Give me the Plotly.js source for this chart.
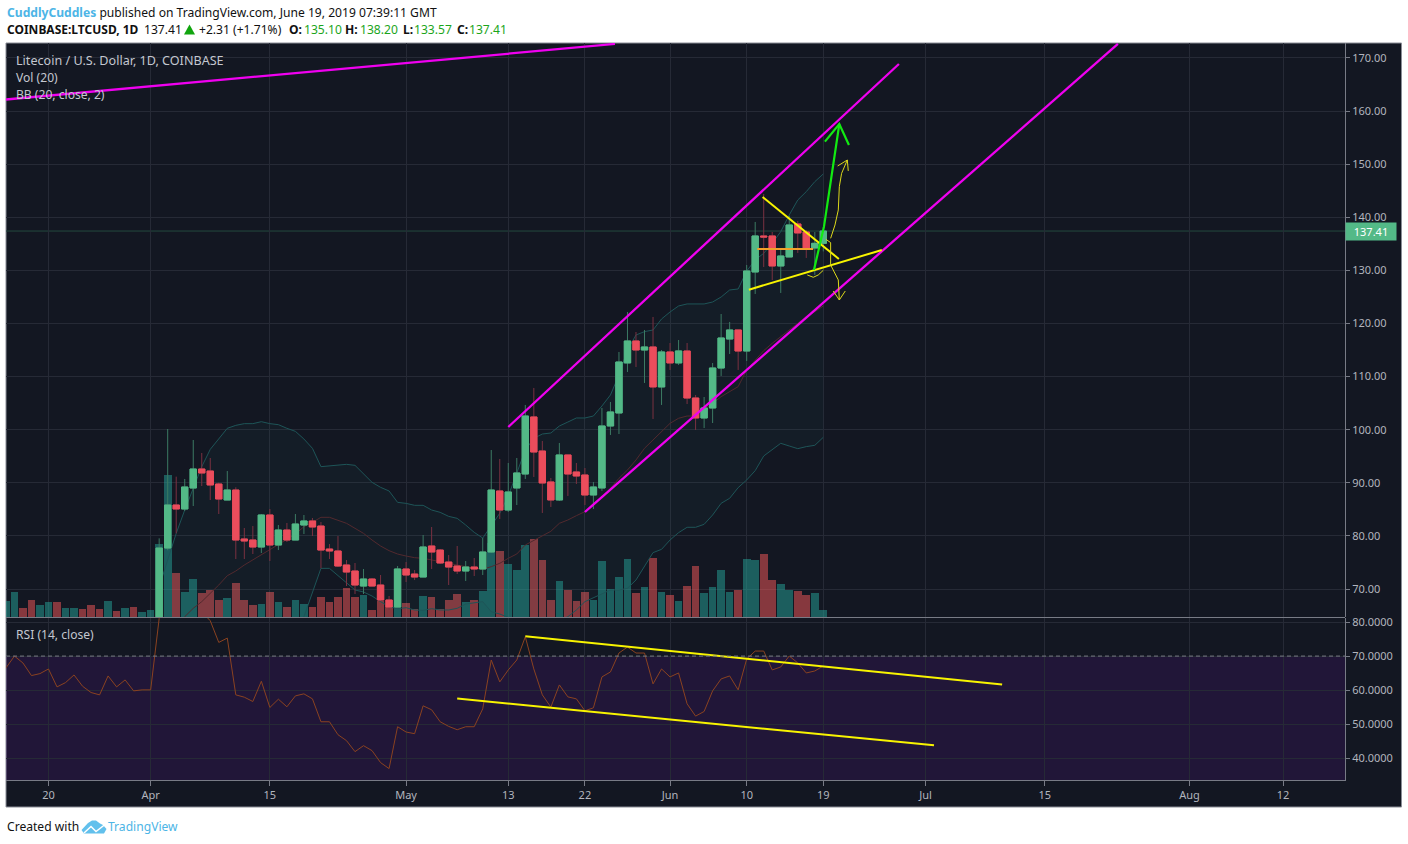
<!DOCTYPE html>
<html>
<head>
<meta charset="utf-8">
<script src="https://cdn.plot.ly/plotly-3.0.1.min.js"></script>
<style>html,body{margin:0;padding:0;background:#fff}#chart{width:1408px;height:844px}</style>
</head>
<body>
<div id="chart"></div>
<script>
// ---------- Data ----------
const candleOpen = [
 62,77.72,85.82,85.07,89.02,92.6,92.22,89.77,86.76,88.64,79.42,79.23,77.91,83.94,78.29,81.11,79.23,82.05,82.81,81.86,77.53,77.16,74.52,73.39,70.56,71.88,70.75,67.93,66.61,
 73.77,72.82,72.26,78.1,77.34,75.08,74.33,73.39,74.14,73.77,76.97,88.46,84.88,89.03,91.66,102.4,95.99,90.16,86.77,95.24,92.04,91.47,87.71,89.03,100.7,103.15,112.57,116.71,115.01,115.58,108.05,
 114.64,112.57,114.82,105.97,102.21,104.09,111.62,117.08,118.78,114.82,129.7,136.48,136.48,130.83,132.53,138.74,137.23,134.22,135.10];
const candleHigh = [
 79.54,100.13,91.16,90.72,98.06,95.61,94.67,90.03,92.22,89.15,81.49,81.86,84.12,85.07,82.05,82.43,84.12,83.94,83.37,82.62,78.47,79.98,75.46,74.9,73.77,72.07,72.64,68.68,74.33,
 75.08,73.58,80.17,81.68,77.53,76.4,78.1,75.27,75.84,79.6,96.18,94.49,93.73,94.67,104.66,107.86,97.88,90.91,97.5,95.24,93.73,92.79,90.16,104.09,105.22,114.64,122.17,118.4,118.78,121.23,115.01,
 116.33,116.89,116.33,106.54,106.16,112.56,121.79,120.29,118.78,131.02,139.12,144.39,137.23,134.03,140.25,139.31,137.61,137.23,138.20];
const candleLow = [
 61,77.3,80.48,84.69,85.63,89.4,86.76,84.12,86.76,75.65,75.65,76.59,76.78,75.27,77.34,78.85,79.23,80.36,79.98,73.89,75.65,74.14,70.56,69.06,69.06,70.56,67.74,66.05,66.61,
 71.32,71.69,72.26,73.77,74.71,70.75,72.82,71.51,72.45,72.64,76.78,83.19,84.51,85.82,90.72,91.1,84.32,85.45,86.58,87.52,89.78,85.82,85.07,88.46,99.01,99.19,110.87,111.81,108.8,102.02,104.66,
 111.25,112.19,104.84,99.95,100.32,101.26,110.12,114.26,111.25,112.94,125.56,130.64,128.19,125.75,132.53,133.28,132.34,129.14,133.57];
const candleClose = [
 77.72,85.82,85.07,89.21,92.6,91.85,89.59,86.95,88.64,79.23,79.04,77.91,83.94,78.29,81.11,79.23,82.24,82.81,81.68,77.34,77.16,74.33,73.2,70.75,71.88,70.56,67.93,66.61,73.77,
 72.64,72.26,77.91,76.97,74.9,74.14,73.39,74.14,73.77,76.97,88.64,84.88,88.27,91.85,102.58,95.8,89.97,86.77,95.24,91.66,91.28,87.71,89.21,100.7,103.34,112.75,116.71,115.01,115.58,108.05,114.64,
 112.57,114.83,105.97,102.21,104.09,111.62,117.27,118.78,114.82,129.89,136.48,136.29,130.83,132.71,138.55,137.05,134.22,135.10,137.41];

const bbUpper = [
 70.44,75.46,80.48,84.88,88.96,93.04,96.3,98.37,100.26,100.82,101.14,101.14,101.51,101.14,100.95,100.26,99.69,98.25,96.49,93.04,93.16,93.29,93.48,93.29,91.78,90.09,89.15,88.46,86.32,
 86.13,85.76,85.76,84.88,84.44,83.68,83.31,82.05,80.67,79.6,82.05,84.25,87.5,92,96.18,98.38,99.19,99.38,100.7,101.45,102.21,102.21,102.58,104.47,106.54,110.31,115.01,117.84,118.47,118.78,120.85,
 122.17,123.3,123.68,123.68,123.68,124.05,124.99,126.31,126.5,129.89,131.96,133.22,135.1,137.3,140.44,143.26,144.83,146.71,148.16];
const bbBasis = [
 60.5,61.5,62.5,64.79,66.36,67.62,69.18,70.75,72.51,73.39,74.52,75.46,76.4,77.34,78.29,79.35,80.36,81.74,82.56,83.5,83.5,82.99,82.37,81.43,80.48,79.23,78.1,77.22,76.59,
 76.21,75.9,75.78,75.46,75.15,74.83,74.52,74.21,74.02,73.71,74.21,74.84,75.78,76.6,78.29,79.11,79.99,80.87,82.37,83,83.81,84.57,86.14,87.39,88.96,90.85,92.41,94.3,96.5,98.06,99.45,
 101.2,102.15,102.58,102.58,103.71,104.97,106.22,107.17,108.11,111.25,113.13,114.89,116.27,117.52,118.78,120.03,121.29,122.23,123.3];
const bbLower = [
 50.56,47.54,44.52,44.7,43.76,42.2,42.06,43.13,44.76,45.96,47.9,49.78,51.29,53.54,55.63,58.44,61.03,64.79,69.18,73.89,73.89,72.51,71.13,69.81,69.44,68.68,67.62,66.67,66.3,
 66.48,66.05,65.98,66.3,66.05,66.05,66.36,67.18,67.36,67.62,65.73,65.29,64.66,60.16,60.4,59.84,60.79,62.36,64.04,64.79,66.05,67.62,68.37,69.06,69.82,69.82,70.13,71.7,74.21,76.85,77.47,
 79.23,80.61,81.62,81.62,82.18,83.94,86.14,87.08,89.09,90.53,92.29,95.05,96.31,97.44,96.93,96.43,96.81,97.06,98.57];

// Volume, from 15 March to 19 June (arbitrary units, axis 0-574)
const volume = [
 16.3,25.3,9.3,17.3,12.3,15.3,15.3,9.3,9.3,8.3,12.3,8.3,16.3,6.3,9.3,10.3,5.3,
 7.3,73.3,142.3,44.3,25.3,38.3,24.3,27.3,17.3,19.3,34.3,17.3,12.3,13.3,25.3,15.3,10.3,17.3,13.3,10.3,20.3,15.3,20.3,29.3,20.3,22.3,7.3,16.3,12.3,21.3,
 14.3,8.3,21.3,20.3,8.3,17.3,23.3,15.3,17.3,26.3,74,66,53,47,72,78,57,17,36,27,16,25,17,56,28,40,58,24,30,59,25,
 22,16,31,51,24,30,47,25,27,58,57,63,37,33,27,26,22,24,7];
const volumeDirBefore = ['u','u','d','d','u','u','d','u','u','d','d','d','u','d','u','d','u','u'];

// RSI(14), from 15 March to 19 June
const rsi = [
 66.5,70,67.97,64.26,64.84,66.21,60.94,62.2,64.45,61.13,59.28,58.59,64.16,60.94,62.99,59.77,60.06,
 60.06,81.1,87,86,87,88,83,80.4,74.02,75.29,58.59,57.91,56.64,62.6,54.88,57.32,55.08,58.3,58.89,57.42,50.68,50.68,46.87,45.12,41.89,43.65,42.19,38.67,36.91,49.22,
 47.66,47.17,55.37,54.2,50.68,49.32,48.34,49.22,49.22,54.49,68.85,62.4,65.92,68.85,75.68,66.21,58.59,54.98,61.52,58,57.42,53.91,54.78,63.87,65.33,70.9,72.66,70.9,70.9,61.82,66.21,
 63.87,65.04,55.96,52.34,53.71,59.77,63.28,64.16,60.06,69.14,71.48,71.48,65.92,66.8,70.02,67.97,65.04,65.62,67.09];

const xTickDates = ['2019-03-20','2019-04-01','2019-04-15','2019-05-01','2019-05-13','2019-05-22','2019-06-01','2019-06-10','2019-06-19','2019-07-01','2019-07-15','2019-08-01','2019-08-12'];
const xTickLabels = ['20','Apr','15','May','13','22','Jun','10','19','Jul','15','Aug','12'];
const priceTicks = [70,80,90,100,110,120,130,140,150,160,170];
const rsiTicks = [40,50,60,70,80];
const lastPrice = 137.41;

// Hand-drawn chart annotations: x in days after 1 April 2019, y in price or RSI
const magentaTopX = [-17.2,54.53],  magentaTopY = [162.15,172.64];
const channelUpX = [42,87.88],      channelUpY = [100.51,168.87];
const channelLoX = [51,113.6],      channelLoY = [84.5,172.64];
const yellowDownX = [71.87,80.83],  yellowDownY = [143.82,132.15];
const yellowUpX = [70.26,85.88],    yellowUpY = [126.37,133.84];
const orangeX = [71.24,77.81],      orangeY = [134.03,134.03];
const greenShaftX = [77.9,79.08,80.88], greenShaftY = [130.08,138.24,157.57];
const greenHeadX = [79.19,80.88,82.01], greenHeadY = [154.25,157.57,153.62];
const smileX = [77.12,77.82,78.41,79.0], smileY = [129.14,128.7,129.14,130.02];
const tickX = [79.31,79.86,79.86], tickY = [135.85,135.23,131.02];
const curveUpX = [79.86,80.37,80.76,80.88,81.15,81.82], curveUpY = [136.04,138.55,141.38,145.77,148.28,150.79];
const curveUpHeadX = [80.68,81.82,81.93], curveUpHeadY = [149.66,150.79,148.72];
const curveDownX = [79.86,80.76,80.88], curveDownY = [131.02,128.2,124.43];
const curveDownHeadX = [80.17,80.88,81.58], curveDownHeadY = [126.12,124.43,126.12];
const rsiTopX = [44,100],   rsiTopY = [75.8,61.62];
const rsiLowX = [36,92],    rsiLowY = [57.52,43.75];

// ---------- Helpers ----------
const DAY = 86400000, APR1 = Date.UTC(2019,3,1);
const iso = ms => new Date(ms).toISOString().replace('T',' ').replace('Z','');
const dayDate = d => iso(APR1 + d*DAY);
const dates = a => a.map(dayDate);
const allDays = volume.map((_,i)=> dayDate(i-17));
const candleDays = candleOpen.map((_,i)=> dayDate(i+1));
const rsiDays = allDays;
const volumeDir = volumeDirBefore.concat(candleOpen.map((o,i)=> candleClose[i]>=o ? 'u':'d'));

// Page pixels to paper fractions (plot area x 6-1345, y 43-780)
const PW=1339, PH=737;
const fx = x => (x-6)/PW, fy = y => (780-y)/PH;
const FONT = '"Noto Sans", "Open Sans", sans-serif';
const text = (x,y,t,size,color,extra) => Object.assign({xref:'paper',yref:'paper',x:fx(x),y:fy(y),xanchor:'left',yanchor:'middle',
  showarrow:false,text:t,align:'left',borderpad:0,font:{family:FONT,size:size,color:color}},extra||{});
const pathP = pts => pts.map(s=> typeof s==='string'? s : fx(s[0])+','+fy(s[1])).join(' ');

function drawn(x,y,color,width,axis){
  return {type:'scatter',mode:'lines',x:dates(x),y:y,xaxis:'x',yaxis:axis||'y3',line:{color:color,width:width},hoverinfo:'skip'};
}
const MAGENTA='#f000f0', YELLOW='#f8f400', GREEN='#12ea12', THIN='#dcd81a';
const GREENUP='#53b987', REDDOWN='#eb4d5c', QUOTE='#1ba51b', INK='#111111';

const traces = [
  // Volume (bottom layer)
  {type:'bar',x:allDays,y:volume,xaxis:'x',yaxis:'y',width:DAY*0.9,
   marker:{color:volumeDir.map(d=> d==='u'?'rgba(38,166,154,0.5)':'rgba(250,90,90,0.5)'),line:{width:0}},hoverinfo:'skip'},
  // Bollinger bands
  {type:'scatter',mode:'lines',x:candleDays,y:bbLower,xaxis:'x',yaxis:'y2',line:{color:'#1e5558',width:1},hoverinfo:'skip'},
  {type:'scatter',mode:'lines',x:candleDays,y:bbUpper,xaxis:'x',yaxis:'y2',line:{color:'#1e5558',width:1},fill:'tonexty',fillcolor:'rgba(38,166,154,0.045)',hoverinfo:'skip'},
  {type:'scatter',mode:'lines',x:candleDays,y:bbBasis,xaxis:'x',yaxis:'y2',line:{color:'#52292e',width:1},hoverinfo:'skip'},
  // Candles: wicks, then bodies
  {type:'candlestick',x:candleDays,open:candleOpen,high:candleHigh,low:candleLow,close:candleClose,xaxis:'x',yaxis:'y3',whiskerwidth:0,
   increasing:{line:{color:'#3c7a63',width:1},fillcolor:GREENUP},decreasing:{line:{color:'#7a3140',width:1},fillcolor:REDDOWN},hoverinfo:'skip'},
  {type:'candlestick',x:candleDays,open:candleOpen,close:candleClose,
   high:candleOpen.map((o,i)=>Math.max(o,candleClose[i])),low:candleOpen.map((o,i)=>Math.min(o,candleClose[i])),xaxis:'x',yaxis:'y3',whiskerwidth:0,
   increasing:{line:{color:GREENUP,width:1},fillcolor:GREENUP},decreasing:{line:{color:REDDOWN,width:1},fillcolor:REDDOWN},hoverinfo:'skip'},
  // Drawings on price pane
  drawn(magentaTopX,magentaTopY,MAGENTA,2.3),
  drawn(channelUpX,channelUpY,MAGENTA,2.3),
  drawn(channelLoX,channelLoY,MAGENTA,2.3),
  drawn(orangeX,orangeY,'#f2a02a',2),
  drawn(yellowDownX,yellowDownY,YELLOW,2),
  drawn(yellowUpX,yellowUpY,YELLOW,2),
  drawn(smileX,smileY,THIN,1),
  drawn(tickX,tickY,THIN,1),
  drawn(curveUpX,curveUpY,THIN,1),
  drawn(curveUpHeadX,curveUpHeadY,THIN,1),
  drawn(curveDownX,curveDownY,THIN,1),
  drawn(curveDownHeadX,curveDownHeadY,THIN,1),
  drawn(greenShaftX,greenShaftY,GREEN,2.2),
  drawn(greenHeadX,greenHeadY,GREEN,2.2),
  // RSI
  {type:'scatter',mode:'lines',x:rsiDays,y:rsi,xaxis:'x',yaxis:'y4',line:{color:'#8a4220',width:1},hoverinfo:'skip'},
  drawn(rsiTopX,rsiTopY,YELLOW,2,'y4'),
  drawn(rsiLowX,rsiLowY,YELLOW,2,'y4')
];

const GRID='#262a36', AXIS='#787b86', TICK='#b2b5be';
const priceRange=[64.73,172.82], rsiRange=[33.55,81.2];
const priceDomain=[fy(617),1], rsiDomain=[0,fy(618)];
const tickfont={family:FONT,size:11,color:TICK};

const layout = {
  width:1408,height:844,autosize:false,showlegend:false,
  margin:{l:6,r:63,t:43,b:64,pad:0},
  paper_bgcolor:'#ffffff',plot_bgcolor:'#131722',boxgap:0.25,boxgroupgap:0,boxmode:'overlay',bargap:0,hovermode:false,dragmode:false,
  xaxis:{type:'date',anchor:'y4',range:[dayDate(-16.99),dayDate(140.27)],tickvals:xTickDates,ticktext:xTickLabels,tickmode:'array',
    showgrid:true,gridcolor:GRID,gridwidth:1,zeroline:false,rangeslider:{visible:false},showline:true,linecolor:AXIS,linewidth:1,
    ticks:'outside',ticklen:5,tickcolor:AXIS,tickfont:tickfont},
  yaxis:{domain:priceDomain,anchor:'x',range:[0,574],showgrid:false,zeroline:false,showticklabels:false,ticks:'',side:'right'},
  yaxis2:{overlaying:'y',anchor:'x',range:priceRange,showgrid:false,zeroline:false,showticklabels:false,ticks:'',side:'right'},
  yaxis3:{overlaying:'y',anchor:'x',range:priceRange,side:'right',tickmode:'array',tickvals:priceTicks,tickformat:'.2f',
    showgrid:true,gridcolor:GRID,gridwidth:1,zeroline:false,showline:true,linecolor:AXIS,linewidth:1,ticks:'outside',ticklen:4,tickcolor:AXIS,tickfont:tickfont},
  yaxis4:{domain:rsiDomain,anchor:'x',range:rsiRange,side:'right',tickmode:'array',tickvals:rsiTicks,tickformat:'.4f',
    showgrid:true,gridcolor:GRID,gridwidth:1,zeroline:false,showline:true,linecolor:AXIS,linewidth:1,ticks:'outside',ticklen:4,tickcolor:AXIS,tickfont:tickfont},
  shapes:[
    // Chart frame and dark scale areas
    {type:'rect',layer:'below',xref:'paper',yref:'paper',x0:fx(6),x1:fx(1401.5),y0:fy(807),y1:fy(43),fillcolor:'#131722',line:{color:'#8a8d96',width:1}},
    // Pane divider
    {type:'line',xref:'paper',yref:'paper',x0:fx(6),x1:fx(1345),y0:fy(617.5),y1:fy(617.5),line:{color:AXIS,width:1}},
    // RSI band and guide
    {type:'rect',layer:'below',xref:'paper',yref:'y4',x0:0,x1:1,y0:33.55,y1:70,fillcolor:'rgba(153,21,255,0.1)',line:{width:0}},
    {type:'line',xref:'paper',yref:'y4',x0:0,x1:1,y0:70,y1:70,line:{color:'#787b86',width:1,dash:'4px,3px'}},
    // Last price line
    {type:'line',layer:'below',xref:'paper',yref:'y3',x0:0,x1:1,y0:lastPrice,y1:lastPrice,line:{color:'#24493f',width:1}},
    // Up triangle in the quote line
    {type:'path',xref:'paper',yref:'paper',fillcolor:'#11a50f',line:{width:0},
     path:pathP(['M',[184,34.5],'L',[189.5,24.5],'L',[195,34.5],'Z'])},
    // Logo
    {type:'path',xref:'paper',yref:'paper',fillcolor:'#62c0ec',line:{width:0},
     path:pathP(['M',[81.5,830],'L',[88,823],'L',[92,820.5],'L',[96,820.5],'L',[100,823.5],'L',[103,825],'L',[106.5,829],'L',[104,833.5],'L',[84,833.5],'Z'])},
    {type:'path',xref:'paper',yref:'paper',line:{color:'#ffffff',width:1.5},
     path:pathP(['M',[84,833],'L',[91,826.5],'L',[96,831.5],'L',[105,824.5]])}
  ],
  annotations:[
    text(6,12.5,'<b><span style="color:#4db5e6">CuddlyCuddles</span></b> published on TradingView.com, June 19, 2019 07:39:11 GMT',12.1,INK),
    text(6,29.5,'<b>COINBASE:LTCUSD, 1D</b>',12,INK),
    text(143,29.5,'137.41',12.1,INK),
    text(198,29.5,'+2.31 (+1.71%)',12.1,INK),
    text(288,29.5,'<b>O:</b>',12.1,INK),
    text(303,29.5,'135.10',12.1,QUOTE),
    text(344,29.5,'<b>H:</b>',12.1,INK),
    text(359,29.5,'138.20',12.1,QUOTE),
    text(402,29.5,'<b>L:</b>',12.1,INK),
    text(413,29.5,'133.57',12.1,QUOTE),
    text(456,29.5,'<b>C:</b>',12.1,INK),
    text(468,29.5,'137.41',12.1,QUOTE),
    text(15,60.5,'Litecoin / U.S. Dollar, 1D, COINBASE',12.6,'#c4c7d0'),
    text(15,77.5,'Vol (20)',12.1,'#c4c7d0'),
    text(15,94.5,'BB (20, close, 2)',12.1,'#c4c7d0'),
    text(15,634.5,'RSI (14, close)',12.1,'#c4c7d0'),
    text(6,826,'Created with',12.1,INK),
    text(107,826,'TradingView',12.1,'#4db5e6'),
    {xref:'paper',yref:'y3',x:fx(1345),y:lastPrice,xanchor:'left',yanchor:'middle',showarrow:false,text:'137.41',
     bgcolor:GREENUP,width:50,height:17,align:'center',borderpad:0,font:{family:FONT,size:11,color:'#ffffff'}}
  ]
};
Plotly.newPlot('chart',traces,layout,{displayModeBar:false,staticPlot:true,responsive:false});
</script>
</body>
</html>
